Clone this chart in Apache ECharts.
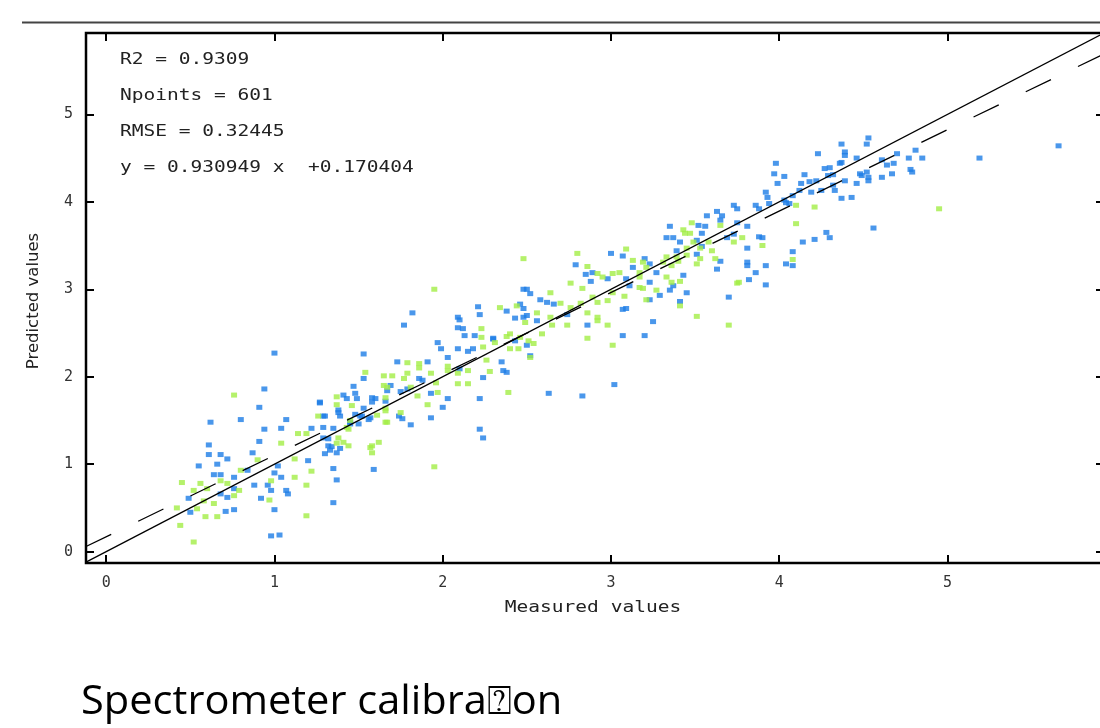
<!DOCTYPE html>
<html lang="en">
<head>
<meta charset="UTF-8">
<title>Spectrometer calibration</title>
<style>
    html, body { margin: 0; padding: 0; background: #fff; overflow: hidden; }
    #main { width: 1104px; height: 728px; }
</style>
</head>
<body>
<div id="main"></div>
<script src="https://cdn.jsdelivr.net/npm/echarts@6/dist/echarts.min.js"></script>
<script>
    'use strict';
    // axis ranges
    const xRange = [-0.12, 5.93];
    const yRange = [-0.13, 5.93];
    // regression line printed in the chart
    const fitSlope = 0.930949;
    const fitIntercept = 0.170404;
    const statLines = ['R2 = 0.9309', 'Npoints = 601', 'RMSE = 0.32445', 'y = 0.930949 x  +0.170404'];
    const xTitle = 'Measured values';
    const yTitle = 'Predicted values';
    const caption = 'Spectrometer calibra\u2370on';

    // [measured, predicted]
    const bluePoints = [
        [0.62,1.48],[0.80,1.51],[0.91,1.65],[1.07,1.51],[0.94,1.40],[1.04,1.41],[0.61,1.22],[0.61,1.11],[0.68,1.11],[0.72,1.06],
        [0.66,1.00],[0.55,0.98],[0.91,1.26],[0.87,1.13],[0.64,0.88],[0.68,0.88],[0.76,0.85],[0.84,0.93],[0.88,0.76],[0.96,0.76],
        [0.98,0.70],[0.92,0.61],[1.00,0.48],[0.98,0.18],[1.03,0.19],[0.49,0.61],[0.50,0.45],[0.71,0.46],[0.76,0.48],[0.72,0.62],
        [0.68,0.66],[0.76,0.72],[1.07,0.70],[1.08,0.66],[1.04,0.85],[1.00,0.90],[1.02,0.98],[1.20,1.04],[1.27,1.70],[1.29,1.55],
        [1.22,1.41],[1.29,1.30],[1.33,1.16],[1.35,0.95],[1.37,0.82],[1.35,0.56],[1.59,0.94],[1.45,1.48],[1.52,1.55],[1.56,1.51],
        [1.38,1.59],[1.39,1.18],[1.32,1.21],[1.00,2.27],[0.94,1.86],
        [1.82,2.73],[1.77,2.59],[1.53,2.26],[1.53,1.98],[1.47,1.89],[1.41,1.79],[1.48,1.81],[1.43,1.75],[1.49,1.75],[1.58,1.76],
        [1.60,1.75],[1.58,1.71],[1.27,1.71],[1.30,1.55],[1.38,1.62],[1.39,1.55],[1.48,1.57],[1.51,1.55],[1.57,1.53],[1.53,1.64],
        [1.50,1.46],[1.45,1.46],[1.29,1.42],[1.35,1.41],[1.32,1.29],[1.34,1.20],[1.37,1.13],[1.30,1.12],[1.66,1.72],[1.67,1.84],
        [1.69,1.90],[1.73,2.17],[1.75,1.83],[1.79,1.86],[1.86,1.98],[1.88,1.96],[1.91,2.17],[1.81,1.45],[1.74,1.55],[1.76,1.52],
        [1.93,1.53],[1.93,1.81],[1.97,2.39],[1.99,2.32],[2.03,2.22],[2.09,2.32],[2.15,2.29],[2.18,2.32],[2.09,2.68],[2.10,2.65],
        [2.09,2.56],[2.13,2.47],[2.19,2.47],[2.21,2.80],[2.22,2.71],[2.30,2.43],[2.24,1.99],[2.22,1.75],[2.00,1.65],[2.03,1.75],
        [2.22,1.40],[2.24,1.30],
        [3.00,3.41],[3.07,3.38],[2.79,3.28],[2.85,3.17],[2.89,3.19],[2.88,3.09],[2.98,3.12],[3.13,3.25],[3.20,3.35],[3.09,3.12],
        [3.11,3.04],[3.23,3.29],[3.23,3.08],[2.48,3.00],[2.50,3.00],[2.52,2.95],[2.58,2.88],[2.62,2.85],[2.66,2.83],[2.46,2.83],
        [2.48,2.78],[2.38,2.75],[2.43,2.67],[2.48,2.68],[2.56,2.64],[2.12,2.55],[2.30,2.44],[2.43,2.41],[2.50,2.36],[2.52,2.24],
        [2.35,2.17],[2.74,2.71],[2.86,2.59],[3.07,2.77],[3.09,2.78],[3.25,2.63],[3.07,2.47],[3.20,2.47],[2.36,2.07],[2.38,2.05],
        [3.02,1.91],[2.63,1.81],[2.83,1.78],[2.50,2.70],[2.10,2.09],
        [3.92,4.11],[3.93,4.05],[4.08,4.07],[4.19,4.11],[4.04,3.99],[4.06,3.98],[3.73,3.96],[3.75,3.92],[3.86,3.96],[3.88,3.92],
        [3.63,3.89],[3.66,3.84],[3.57,3.84],[3.65,3.79],[3.75,3.76],[3.81,3.72],[3.35,3.72],[3.52,3.73],[3.56,3.72],[3.54,3.64],
        [3.33,3.59],[3.37,3.59],[3.41,3.54],[3.51,3.56],[3.69,3.59],[3.73,3.63],[3.88,3.60],[3.90,3.59],[3.81,3.47],[3.54,3.49],
        [3.39,3.44],[3.51,3.40],[3.27,3.19],[3.65,3.32],[3.63,3.23],[3.81,3.31],[3.81,3.27],[3.92,3.27],[4.04,3.29],[4.08,3.27],
        [4.08,3.43],[4.14,3.54],[4.21,3.57],[3.86,3.19],[3.82,3.11],[3.92,3.05],[3.43,3.16],[3.37,3.04],[3.45,2.96],[3.35,2.99],
        [3.29,2.93],[3.41,2.86],[3.23,2.88],[3.70,2.91],
        [4.53,4.73],[4.52,4.66],[4.37,4.66],[4.39,4.57],[4.39,4.53],[4.23,4.55],[3.98,4.44],[3.97,4.32],[4.03,4.29],[4.15,4.31],
        [4.27,4.38],[4.30,4.39],[4.36,4.44],[4.37,4.45],[4.32,4.31],[4.29,4.30],[4.22,4.24],[4.18,4.23],[4.13,4.21],[3.99,4.21],
        [4.12,4.13],[4.03,4.02],[4.25,4.13],[4.32,4.19],[4.33,4.13],[4.39,4.24],[4.46,4.21],[4.48,4.32],[4.49,4.30],[4.52,4.34],
        [4.53,4.28],[4.53,4.24],[4.61,4.48],[4.64,4.42],[4.68,4.44],[4.67,4.32],[4.70,4.55],[4.77,4.50],[4.81,4.59],[4.85,4.50],
        [4.78,4.37],[4.79,4.34],[4.61,4.28],[4.46,4.50],[4.37,4.04],[4.43,4.05],[4.56,3.70],[4.28,3.65],[4.30,3.59],[3.94,3.98],
        [5.19,4.50],[5.66,4.64]
    ];
    const greenPoints = [
        [0.45,0.79],[0.42,0.50],[0.44,0.30],[0.52,0.11],[0.56,0.78],[0.52,0.70],[0.60,0.72],[0.58,0.58],[0.54,0.49],[0.59,0.40],
        [0.66,0.40],[0.64,0.55],[0.72,0.78],[0.79,0.70],[0.80,0.93],[0.90,1.05],[0.98,0.81],[0.97,0.59],[1.04,1.24],[1.14,1.35],
        [1.19,1.35],[1.12,1.06],[1.12,0.85],[1.19,0.76],[1.22,0.92],[1.19,0.41],[1.26,1.55],[1.37,1.68],[1.44,1.40],[1.41,1.25],
        [1.58,1.21],[1.62,1.25],[1.58,1.13],[1.67,1.48],[1.66,1.61],[0.68,0.81],[0.76,0.64],[0.76,1.79],
        [1.95,3.00],[1.54,2.05],[1.65,2.01],[1.70,2.01],[1.79,2.16],[1.79,2.04],[1.86,2.15],[1.86,2.10],[1.93,2.04],[1.96,1.93],
        [1.81,1.88],[1.77,1.98],[1.67,1.88],[1.65,1.90],[1.75,1.59],[1.85,1.78],[1.91,1.68],[1.97,1.82],[2.03,2.12],[2.03,2.07],
        [2.09,2.04],[2.15,2.07],[2.09,1.92],[2.15,1.92],[2.23,2.55],[2.23,2.45],[2.24,2.34],[2.26,2.19],[2.28,2.06],[2.31,2.39],
        [1.66,1.76],[1.66,1.64],[1.66,1.48],[1.45,1.50],[1.43,1.42],[1.37,1.77],[1.57,1.19],[1.44,1.21],[1.37,1.24],[1.38,1.30],
        [1.95,0.97],[1.46,1.67],[1.61,1.56],
        [2.48,3.35],[2.80,3.41],[2.86,3.26],[2.92,3.18],[2.95,3.14],[3.01,3.18],[2.76,3.07],[2.83,3.01],[2.64,2.96],[3.01,2.96],
        [2.89,2.91],[2.92,2.85],[2.98,2.87],[2.82,2.84],[2.76,2.79],[2.86,2.73],[2.92,2.68],[2.92,2.64],[2.98,2.59],[2.86,2.44],
        [3.01,2.36],[2.34,2.79],[2.44,2.81],[2.70,2.84],[2.56,2.73],[2.64,2.68],[2.74,2.59],[2.65,2.59],[2.49,2.62],[2.40,2.49],
        [2.38,2.46],[2.46,2.45],[2.51,2.41],[2.59,2.49],[2.40,2.32],[2.45,2.32],[2.54,2.38],[2.52,2.22],[2.39,1.82],
        [3.48,3.76],[3.43,3.68],[3.44,3.64],[3.47,3.64],[3.65,3.73],[3.49,3.54],[3.45,3.47],[3.53,3.47],[3.58,3.54],[3.60,3.44],
        [3.73,3.54],[3.78,3.59],[3.90,3.50],[4.10,3.75],[4.21,3.94],[4.10,3.96],[3.09,3.46],[3.13,3.33],[3.19,3.31],[3.21,3.25],
        [3.17,3.19],[3.31,3.31],[3.33,3.37],[3.39,3.37],[3.45,3.39],[3.36,3.27],[3.40,3.32],[3.53,3.35],[3.62,3.35],[3.51,3.29],
        [3.05,3.19],[3.17,3.14],[3.33,3.14],[3.36,3.08],[3.41,3.09],[3.17,3.02],[3.19,3.01],[3.27,2.99],[3.08,2.92],[3.21,2.88],
        [3.41,2.81],[3.75,3.07],[3.76,3.08],[3.51,2.69],[3.70,2.59],
        [4.08,3.34],[4.95,3.92]
    ];

    const monoFont = '"DejaVu Sans Mono", "Liberation Mono", monospace';
    const identityLine = xRange.map(x => [x, x]);
    const fitLine = xRange.map(x => [x, fitSlope * x + fitIntercept]);
    const intOnly = v => (Math.abs(v - Math.round(v)) < 1e-6 ? String(Math.round(v)) : '');

    function makeAxis(range, position, withLabels) {
        return {
            type: 'value',
            position: position,
            min: range[0],
            max: range[1],
            minInterval: 1,
            maxInterval: 1,
            axisLine: { show: false, onZero: false },
            splitLine: { show: false },
            axisTick: { inside: true, length: 8, lineStyle: { color: '#000', width: 2 } },
            axisLabel: {
                show: withLabels,
                formatter: intOnly,
                showMinLabel: false,
                showMaxLabel: false,
                margin: 13,
                fontFamily: monoFont,
                fontSize: 15,
                color: '#333'
            }
        };
    }

    let chart = echarts.init(document.getElementById('main'));
    let option = {
        animation: false,
        backgroundColor: '#fff',
        grid: {
            show: true,
            left: 86,
            top: 33,
            right: 0,
            bottom: 165,
            borderColor: '#000',
            borderWidth: 2.5
        },
        xAxis: [makeAxis(xRange, 'bottom', true), makeAxis(xRange, 'top', false)],
        yAxis: [makeAxis(yRange, 'left', true), makeAxis(yRange, 'right', false)],
        series: [
            {
                name: 'blue',
                type: 'scatter',
                data: bluePoints,
                symbol: 'rect',
                symbolSize: [6, 5],
                itemStyle: { color: '#1d7de6' }
            },
            {
                name: 'green',
                type: 'scatter',
                data: greenPoints,
                symbol: 'rect',
                symbolSize: [6, 5],
                itemStyle: { color: '#a2ee46' }
            },
            {
                name: 'y = x',
                type: 'line',
                data: identityLine,
                showSymbol: false,
                z: 5,
                lineStyle: { color: '#000', width: 1.3 }
            },
            {
                name: 'fit',
                type: 'line',
                data: fitLine,
                showSymbol: false,
                z: 5,
                lineStyle: { color: '#000', width: 1.3, type: [28, 30] }
            }
        ],
        graphic: [
            // thin rule above the plot
            { type: 'line', shape: { x1: 22, y1: 22.5, x2: 1104, y2: 22.5 }, style: { stroke: '#444', lineWidth: 2 } },
            ...statLines.map((t, i) => ({
                type: 'text',
                x: 120,
                y: 60 + i * 36,
                scaleX: 1.22,
                style: { text: t, font: '16px ' + monoFont, fill: '#222', textVerticalAlign: 'middle' }
            })),
            {
                type: 'text', x: 593, y: 608, scaleX: 1.22,
                style: { text: xTitle, font: '16px ' + monoFont, fill: '#222', textAlign: 'center', textVerticalAlign: 'middle' }
            },
            {
                type: 'text', x: 34, y: 301, rotation: Math.PI / 2, scaleX: 1.1,
                style: { text: yTitle, font: '15px "DejaVu Sans", sans-serif', fill: '#222', textAlign: 'center', textVerticalAlign: 'middle' }
            },
            {
                type: 'text', x: 81, y: 703, scaleX: 1.04,
                style: { text: caption, font: '40px "Open Sans", "Noto Sans", sans-serif', fill: '#000', textVerticalAlign: 'middle' }
            }
        ]
    };
    chart.setOption(option);
</script>
</body>
</html>
